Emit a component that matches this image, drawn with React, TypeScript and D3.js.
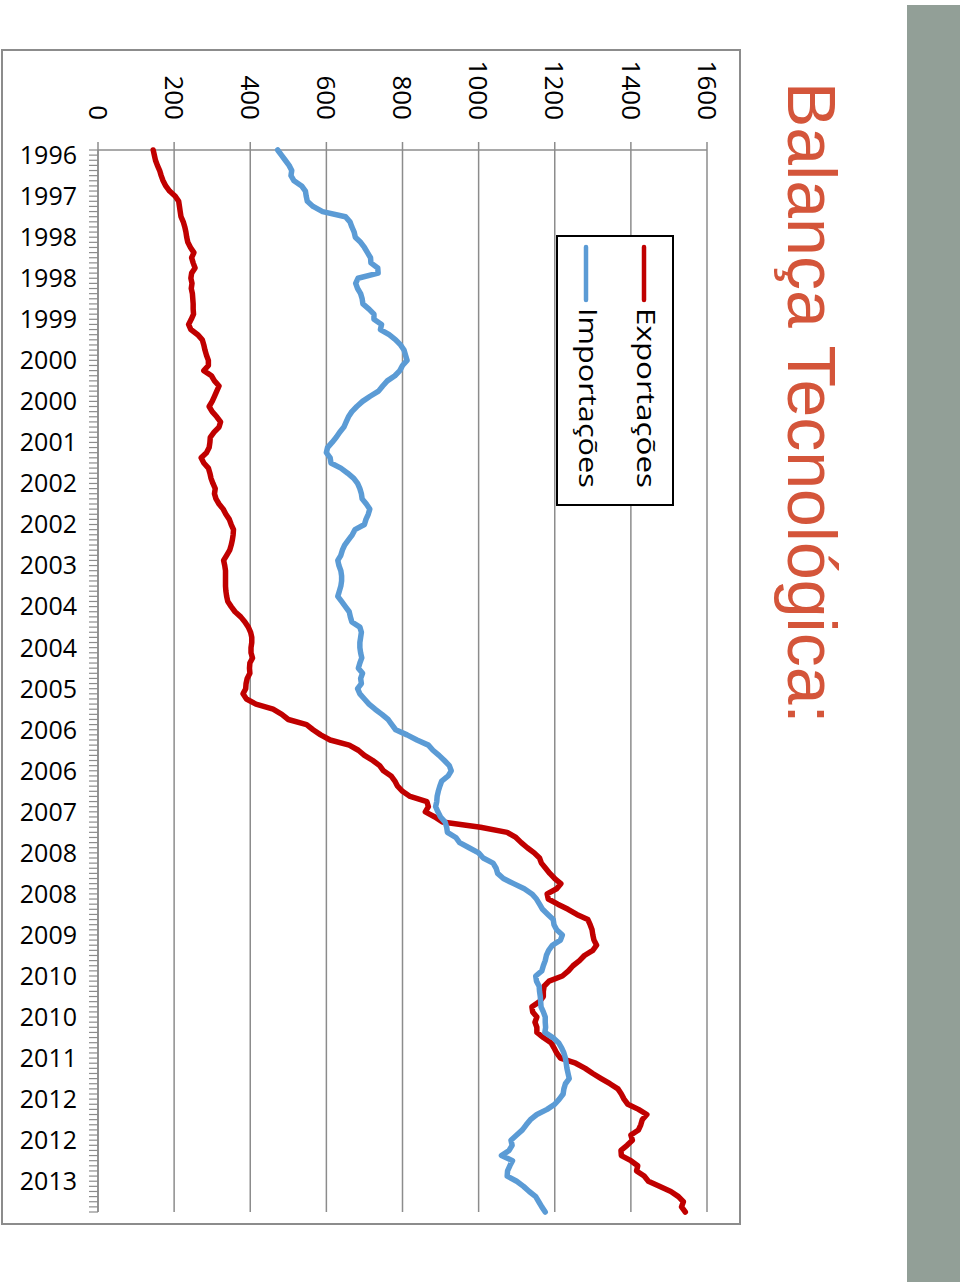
import React from 'react';
import * as d3 from 'd3';

// monthly values, rotated chart (time runs top -> bottom)
const exportacoes = [
  145, 148, 151, 156, 162, 166, 171, 178, 188, 203, 212, 214, 216, 218, 224, 228, 231, 233, 236, 243,
  252, 246, 250, 255, 246, 244, 247, 245, 248, 249, 250, 250, 251, 245, 238, 244, 262, 274, 278, 281,
  285, 290, 290, 278, 298, 306, 318, 312, 306, 300, 292, 300, 312, 322, 318, 305, 295, 294, 292, 285,
  271, 278, 290, 294, 297, 302, 308, 306, 310, 318, 329, 336, 345, 350, 356, 355, 353, 350, 346, 338,
  330, 333, 335, 335, 335, 335, 336, 338, 341, 350, 360, 375, 386, 395, 401, 404, 404, 402, 402, 406,
  399, 398, 399, 392, 389, 388, 381, 390, 415, 460, 483, 500, 548, 565, 585, 610, 660, 684, 700, 722,
  740, 750, 770, 780, 787, 800, 820, 864, 868, 860, 885, 905, 1005, 1075, 1098, 1112, 1128, 1146, 1160, 1165,
  1176, 1187, 1200, 1216, 1205, 1180, 1183, 1208, 1235, 1258, 1287, 1293, 1298, 1300, 1303, 1310, 1300, 1278, 1265, 1248,
  1236, 1220, 1185, 1172, 1170, 1170, 1160, 1140, 1142, 1153, 1148, 1153, 1153, 1170, 1190, 1198, 1205, 1215, 1255, 1280,
  1300, 1322, 1345, 1366, 1375, 1382, 1392, 1420, 1442, 1430, 1426, 1420, 1400, 1404, 1390, 1374, 1375, 1400, 1418, 1415,
  1435, 1446, 1475, 1505, 1525, 1538, 1533, 1543,
];

const importacoes = [
  472, 482, 492, 502, 509, 507, 515, 535, 545, 547, 550, 565, 590, 650, 662, 667, 673, 676, 690, 700,
  708, 716, 717, 735, 736, 683, 677, 682, 690, 694, 696, 712, 725, 725, 745, 742, 765, 782, 795, 804,
  808, 812, 800, 793, 780, 760, 748, 737, 715, 695, 680, 667, 658, 652, 646, 635, 626, 615, 603, 600,
  610, 612, 638, 656, 672, 682, 688, 692, 694, 705, 714, 710, 704, 700, 675, 668, 658, 648, 642, 638,
  630, 633, 638, 640, 640, 638, 634, 630, 640, 650, 660, 663, 667, 688, 692, 690, 688, 688, 690, 693,
  688, 684, 695, 690, 692, 682, 688, 700, 712, 728, 746, 762, 772, 782, 812, 838, 868, 880, 896, 910,
  923, 928, 920, 903, 898, 894, 891, 890, 887, 893, 900, 912, 916, 918, 940, 950, 975, 1000, 1012, 1038,
  1046, 1050, 1065, 1092, 1120, 1140, 1152, 1160, 1168, 1182, 1196, 1198, 1205, 1220, 1215, 1194, 1184, 1178, 1175, 1170,
  1166, 1150, 1152, 1159, 1160, 1162, 1163, 1164, 1170, 1175, 1175, 1176, 1174, 1195, 1210, 1218, 1224, 1228, 1230, 1232,
  1235, 1238, 1228, 1224, 1222, 1212, 1200, 1180, 1153, 1136, 1125, 1115, 1100, 1085, 1088, 1080, 1060, 1089, 1082, 1076,
  1075, 1100, 1118, 1133, 1150, 1158, 1166, 1175,
];

const yearLabels = [
  '1996', '1997', '1998', '1998', '1999', '2000', '2000', '2001', '2002', '2002', '2003', '2004', '2004',
  '2005', '2006', '2006', '2007', '2008', '2008', '2009', '2010', '2010', '2011', '2012', '2012', '2013',
];

const valueTicks = [0, 200, 400, 600, 800, 1000, 1200, 1400, 1600];

const series = [
  { name: 'Exportações', values: exportacoes, color: '#c00000' },
  { name: 'Importações', values: importacoes, color: '#5b9bd5' },
];

const W = 960;
const H = 1287;
const labelFont = "'Open Sans', 'Liberation Sans', sans-serif";

export default function App() {
  const n = exportacoes.length;
  const x = d3.scaleLinear().domain([0, 1600]).range([98, 707]);
  const y = d3.scaleLinear().domain([0, n - 1]).range([150, 1212]);

  const line = d3.line<number>()
    .x(d => x(d))
    .y((_, i) => y(i))
    .curve(d3.curveLinear);

  const idx = d3.range(n);

  return (
    <svg width={W} height={H} style={{ position: 'absolute', left: 0, top: 0, background: '#fff' }}>
      {/* side bar */}
      <rect x={907} y={5} width={53} height={1277} fill="#929f97" />

      {/* title */}
      <text
        transform="translate(788,82) rotate(90)"
        fontFamily="'Liberation Sans', Arial, sans-serif"
        fontSize={68}
        fill="#d4553a"
      >
        Balança Tecnológica:
      </text>

      {/* chart frame */}
      <rect x={2} y={50} width={738} height={1174} fill="none" stroke="#8c8c8c" strokeWidth={2} />

      {/* gridlines */}
      {valueTicks.map(v => (
        <line key={v} x1={x(v)} x2={x(v)} y1={142} y2={y(n - 1)} stroke="#8c8c8c" strokeWidth={1.5} />
      ))}
      <line x1={x(0)} x2={x(1600)} y1={y(0)} y2={y(0)} stroke="#8c8c8c" strokeWidth={1.5} />

      {/* category axis comb */}
      <line x1={x(0)} x2={x(0)} y1={y(0)} y2={y(n - 1)} stroke="#8c8c8c" strokeWidth={1.5} />
      {idx.map(i => (
        <line key={i} x1={89} x2={x(0)} y1={y(i)} y2={y(i)} stroke="#8c8c8c" strokeWidth={1.2} />
      ))}

      {/* value labels */}
      {valueTicks.map(v => (
        <text
          key={v}
          transform={`translate(${x(v)},120) rotate(90)`}
          textAnchor="end"
          dy="0.36em"
          fontFamily={labelFont}
          fontSize={26}
          fill="#000"
        >
          {v}
        </text>
      ))}

      {/* year labels */}
      {yearLabels.map((t, k) => (
        <text
          key={k}
          x={77}
          y={y(k * 8) + 5}
          textAnchor="end"
          dy="0.36em"
          fontFamily={labelFont}
          fontSize={25}
          fill="#000"
        >
          {t}
        </text>
      ))}

      {/* series */}
      {series.map(s => (
        <path
          key={s.name}
          d={line(s.values) || ''}
          fill="none"
          stroke={s.color}
          strokeWidth={5.5}
          strokeLinejoin="round"
          strokeLinecap="round"
        />
      ))}

      {/* legend */}
      <rect x={557} y={236} width={116} height={269} fill="#fff" stroke="#000" strokeWidth={2} />
      {series.map((s, k) => {
        const cx = k === 0 ? 644 : 586;
        return (
          <g key={s.name}>
            <line x1={cx} x2={cx} y1={247} y2={300} stroke={s.color} strokeWidth={4.5} strokeLinecap="round" />
            <text
              transform={`translate(${cx - 7},308) rotate(90)`}
              fontFamily={labelFont}
              fontSize={26}
              textLength={180}
              lengthAdjust="spacingAndGlyphs"
              fill="#000"
            >
              {s.name}
            </text>
          </g>
        );
      })}
    </svg>
  );
}
